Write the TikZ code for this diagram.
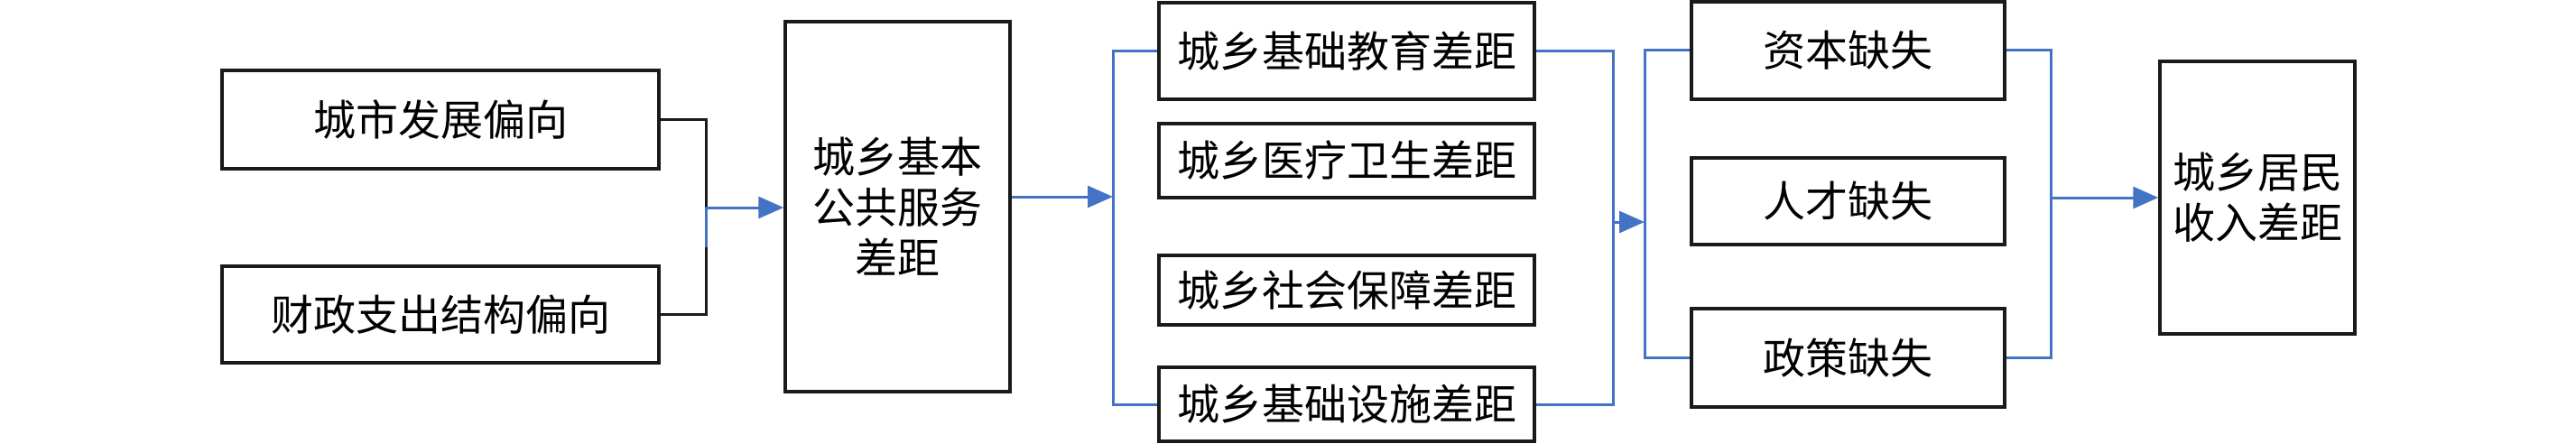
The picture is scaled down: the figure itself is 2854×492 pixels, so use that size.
\documentclass[tikz,border=0pt]{standalone}
\usepackage{fontspec}
\setmainfont{Noto Sans CJK SC}
\usetikzlibrary{arrows.meta}
\definecolor{lblue}{HTML}{4472C4}
\definecolor{dk}{HTML}{1A1A1A}
\tikzset{
  box/.style={draw=dk, line width=3.5pt, inner sep=0pt, font=\fontsize{47}{56}\selectfont, align=center},
  bl/.style={draw=lblue, line width=3pt},
  blk/.style={draw=dk, line width=3pt},
  arr/.style={bl, -{Triangle[length=28pt,width=24pt]}}
}
\begin{document}
\begin{tikzpicture}[x=1pt,y=-1pt]
\useasboundingbox (0,0) rectangle (2854,492);
\node[box, minimum width=484pt, minimum height=109pt] (A) at (488,132.5) {城市发展偏向};
\node[box, minimum width=484pt, minimum height=107pt] (B) at (488,348.5) {财政支出结构偏向};
\node[box, minimum width=249pt, minimum height=410pt] (C) at (994.5,229) {城乡基本\\公共服务\\差距};
\node[box, minimum width=416pt, minimum height=107pt] (D1) at (1492,56.5) {城乡基础教育差距};
\node[box, minimum width=416pt, minimum height=82pt] (D2) at (1492,178) {城乡医疗卫生差距};
\node[box, minimum width=416pt, minimum height=77pt] (D3) at (1492,321.5) {城乡社会保障差距};
\node[box, minimum width=416pt, minimum height=82pt] (D4) at (1492,448) {城乡基础设施差距};
\node[box, minimum width=347pt, minimum height=108pt] (E1) at (2047.5,56) {资本缺失};
\node[box, minimum width=347pt, minimum height=96pt] (E2) at (2047.5,223) {人才缺失};
\node[box, minimum width=347pt, minimum height=109pt] (E3) at (2047.5,396.5) {政策缺失};
\node[box, minimum width=216pt, minimum height=302pt] (F) at (2501,219) {城乡居民\\收入差距};
% left join
\coordinate (j1) at (782,230);
\coordinate (j1b) at (782,274);
\draw[blk] (A.east) -| (j1);
\draw[blk] (B.east) -| (j1b);
\draw[bl] (j1b) -- (j1);
\draw[arr] (j1) -- (C.west |- j1);
% C to D bar
\coordinate (c1) at (C.east |- 0,218);
\coordinate (j2) at (1233,218);
\draw[arr] (c1) -- (j2);
\draw[bl] (D1.west) -| (j2) |- (D4.west);
% D to E
\coordinate (j3) at (1787,246);
\coordinate (j4) at (1822,246);
\draw[bl] (D1.east) -| (j3) |- (D4.east);
\draw[arr] (j3) -- (j4);
\draw[bl] (E1.west) -| (j4) |- (E3.west);
% E to F
\coordinate (j5) at (2272,219);
\draw[bl] (E1.east) -| (j5) |- (E3.east);
\draw[arr] (j5) -- (F.west |- j5);
\end{tikzpicture}
\end{document}
